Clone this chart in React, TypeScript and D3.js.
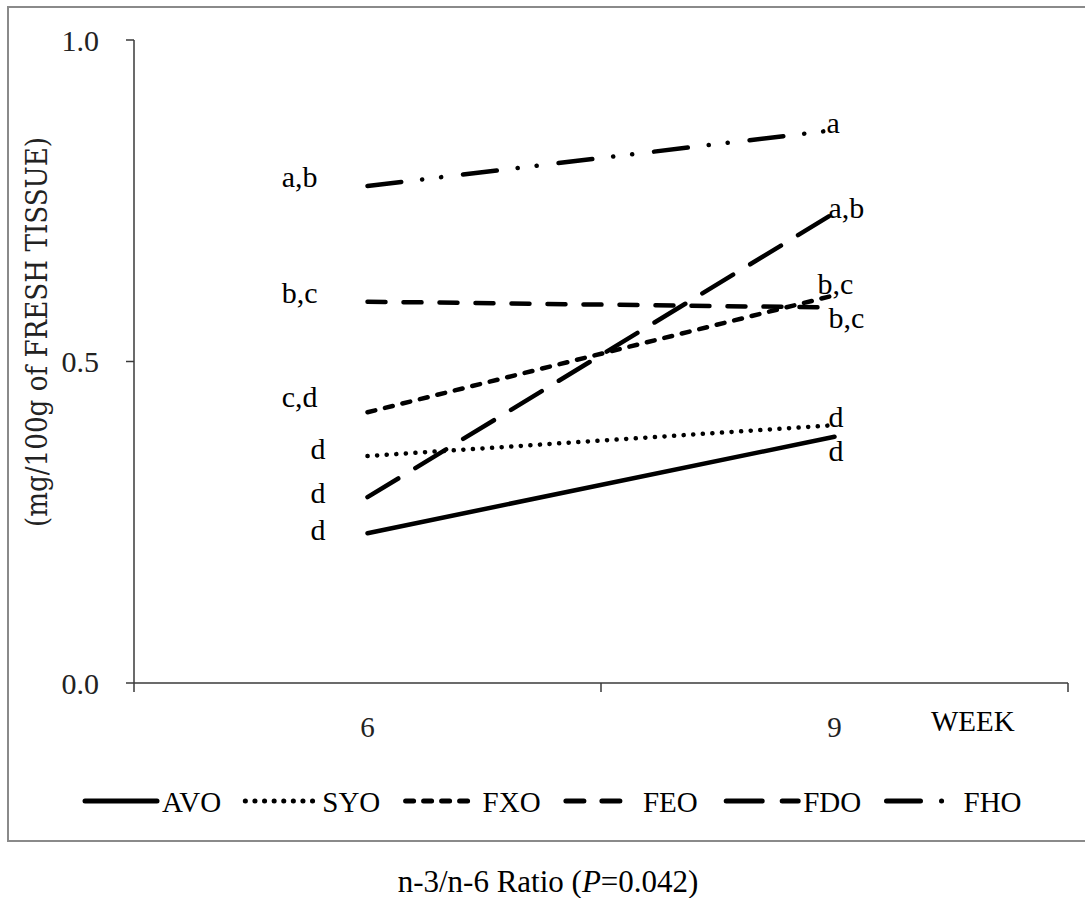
import React from "react";
import * as d3 from "d3";

const weeks = ["6", "9"];
const seriesNames = ["AVO", "SYO", "FXO", "FEO", "FDO", "FHO"];
const avo = [0.233, 0.383];
const syo = [0.353, 0.401];
const fxo = [0.421, 0.603];
const feo = [0.593, 0.584];
const fdo = [0.289, 0.731];
const fho = [0.773, 0.86];
const yTicks = [0, 0.5, 1.0];
const labelsWeek6 = [
  { text: "a,b", v: 0.787 },
  { text: "b,c", v: 0.607 },
  { text: "c,d", v: 0.445 },
  { text: "d", v: 0.365 },
  { text: "d", v: 0.297 },
  { text: "d", v: 0.238 },
];
const labelsWeek9 = [
  { text: "a", v: 0.871 },
  { text: "a,b", v: 0.739 },
  { text: "b,c", v: 0.622 },
  { text: "b,c", v: 0.569 },
  { text: "d", v: 0.414 },
  { text: "d", v: 0.362 },
];

const seriesValues = [avo, syo, fxo, feo, fdo, fho];
const dashes = ["", "0.1 9.5", "8 10", "18 18", "36 20", "34 21 0.1 19 0.1 22"];

export default function App() {
  const x = d3.scaleBand<string>().domain(weeks).range([134, 1068]);
  const y = d3.scaleLinear().domain([0, 1]).range([683, 40]);
  const cx = (w: string) => (x(w) as number) + x.bandwidth() / 2;
  const line = d3
    .line<number>()
    .x((_, i) => cx(weeks[i]))
    .y((d) => y(d));
  const font = "'Liberation Serif', 'Times New Roman', Times, serif";
  const axisColor = "#3a3a3a";
  const rightDx = [-8, -6, -17, -6, -6, -6];
  const boundaries = [...weeks.map((w) => x(w) as number), 1068];
  const ts = { fontFamily: font };

  return (
    <svg
      width={1085}
      height={898}
      style={{ position: "absolute", left: 0, top: 0, background: "#fff", fontFamily: font }}
    >
      <rect x={8} y={7} width={1100} height={834} fill="none" stroke="#8a8a8a" strokeWidth={2} />
      {/* y axis */}
      <line x1={134} x2={134} y1={y(1)} y2={y(0)} stroke={axisColor} strokeWidth={1.5} />
      {yTicks.map((t) => (
        <g key={t}>
          <line x1={126} x2={134} y1={y(t)} y2={y(t)} stroke={axisColor} strokeWidth={1.5} />
          <text x={99} y={y(t)} dy="0.35em" textAnchor="end" fontSize={30} fill="#222" style={ts}>
            {t.toFixed(1)}
          </text>
        </g>
      ))}
      {/* x axis */}
      <line x1={134} x2={1068} y1={y(0)} y2={y(0)} stroke={axisColor} strokeWidth={1.5} />
      {boundaries.map((b, i) => (
        <line key={i} x1={b} x2={b} y1={y(0)} y2={y(0) + 9} stroke={axisColor} strokeWidth={1.5} />
      ))}
      {weeks.map((w) => (
        <text key={w} x={cx(w)} y={737} textAnchor="middle" fontSize={29} fill="#222" style={ts}>
          {w}
        </text>
      ))}
      <text x={931} y={731} fontSize={29} fill="#000" style={ts}>WEEK</text>
      {/* y title */}
      <text
        transform="translate(47,332) rotate(-90)"
        textAnchor="middle"
        fontSize={30}
        textLength={390}
        lengthAdjust="spacingAndGlyphs"
        fill="#222"
        style={{ fontFamily: "'DejaVu Serif', serif" }}
      >
        (mg/100g of FRESH TISSUE)
      </text>
      {/* series */}
      {seriesValues.map((vals, i) => (
        <path
          key={seriesNames[i]}
          d={line(vals) || ""}
          fill="none"
          stroke="#000"
          strokeWidth={4.5}
          strokeLinecap="round"
          strokeDasharray={dashes[i] || undefined}
        />
      ))}
      {/* annotations */}
      {labelsWeek6.map((l, i) => (
        <text
          key={"l6" + i}
          x={cx("6") - (l.text.length > 1 ? 50 : 42)}
          y={y(l.v)}
          dy="0.35em"
          textAnchor="end"
          fontSize={30}
          style={ts}
        >
          {l.text}
        </text>
      ))}
      {labelsWeek9.map((l, i) => (
        <text key={"l9" + i} x={cx("9") + rightDx[i]} y={y(l.v)} dy="0.35em" fontSize={30} style={ts}>
          {l.text}
        </text>
      ))}
      {/* legend */}
      {seriesNames.map((n, i) => {
        const sx = 85 + i * 160.3;
        return (
          <g key={n}>
            <line
              x1={sx}
              x2={sx + 72}
              y1={801}
              y2={801}
              stroke="#000"
              strokeWidth={5}
              strokeLinecap="round"
              strokeDasharray={dashes[i] || undefined}
            />
            <text x={sx + 77} y={812} fontSize={29} style={ts}>
              {n}
            </text>
          </g>
        );
      })}
      {/* caption */}
      <text x={548} y={892} textAnchor="middle" fontSize={31} style={ts}>
        n-3/n-6 Ratio (<tspan fontStyle="italic">P</tspan>=0.042)
      </text>
    </svg>
  );
}
